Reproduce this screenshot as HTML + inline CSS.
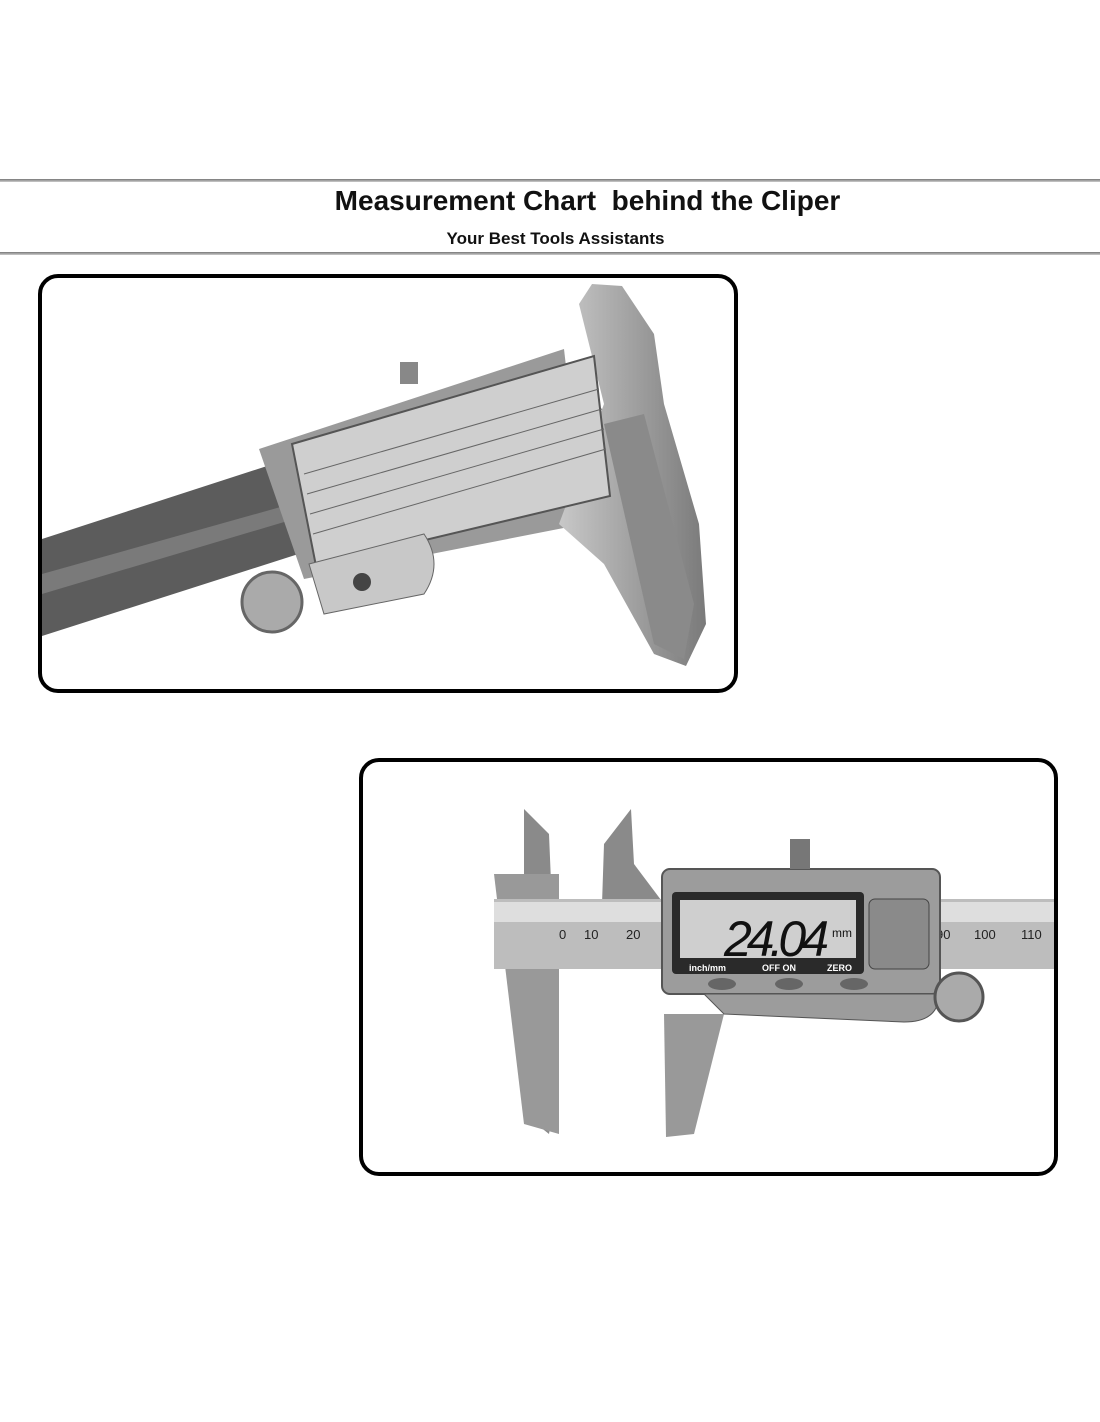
<!DOCTYPE html>
<html><head><meta charset="utf-8"><style>
body{margin:0;width:1100px;height:1422px;background:#fff;position:relative;font-family:"Liberation Sans",sans-serif;overflow:hidden}
.line{position:absolute;left:0;width:1100px;height:3px;background:linear-gradient(#777,#ccc)}
.box{position:absolute;border:4px solid #000;border-radius:20px;background:#fff;overflow:hidden}
</style></head><body>
<div class="line" style="top:179px"></div>
<div style="position:absolute;top:185px;left:0;width:1175px;text-align:center;font-size:28px;font-weight:bold;color:#111">Measurement Chart&nbsp; behind the Cliper</div>
<div style="position:absolute;top:229px;left:0;width:1111px;text-align:center;font-size:17px;font-weight:bold;color:#111">Your Best Tools Assistants</div>
<div class="line" style="top:252px"></div>

<div class="box" style="left:38px;top:274px;width:692px;height:411px">
<svg width="692" height="411" viewBox="38 274 692 411">
<defs>
<linearGradient id="g2" x1="0" y1="0" x2="1" y2="0"><stop offset="0" stop-color="#c8c8c8"/><stop offset="1" stop-color="#7a7a7a"/></linearGradient></defs>
<polygon points="38,535 300,450 310,545 38,632" fill="#5c5c5c"/>
<polygon points="38,570 305,495 307,510 38,590" fill="#7a7a7a"/>
<polygon points="255,445 560,345 580,520 300,575" fill="#9a9a9a"/>
<polygon points="575,300 588,280 618,282 650,330 660,400 695,520 702,620 682,662 650,650 600,560 555,520 600,400" fill="url(#g2)"/>
<polygon points="600,420 640,410 690,600 680,655 650,640" fill="#8a8a8a"/>
<polygon points="288,440 590,352 606,492 312,562" fill="#cfcfcf" stroke="#555" stroke-width="2"/>
<g stroke="#666" stroke-width="1">
<line x1="300" y1="470" x2="595" y2="385"/><line x1="303" y1="490" x2="598" y2="405"/><line x1="306" y1="510" x2="600" y2="425"/><line x1="309" y1="530" x2="602" y2="445"/>
</g>
<rect x="396" y="358" width="18" height="22" fill="#888"/>
<path d="M305,560 L420,530 Q440,560 420,590 L320,610 Z" fill="#c8c8c8" stroke="#666"/>
<circle cx="358" cy="578" r="9" fill="#444"/>
<circle cx="268" cy="598" r="30" fill="#aaa" stroke="#666" stroke-width="3"/>
</svg></div>

<div class="box" style="left:359px;top:758px;width:691px;height:410px">
<svg width="691" height="410" viewBox="359 758 691 410">
<polygon points="520,805 545,830 555,1070 545,1130 520,1110" fill="#8a8a8a"/>
<polygon points="627,805 600,840 598,900 660,900 630,860" fill="#8a8a8a"/>
<polygon points="490,870 555,870 555,1130 520,1120" fill="#999"/>
<polygon points="660,1010 720,1010 690,1130 662,1133" fill="#999"/>
<rect x="490" y="895" width="563" height="70" fill="#bdbdbd"/>
<rect x="490" y="898" width="563" height="20" fill="#dedede"/>
<text x="555" y="935" font-size="13" fill="#222">0</text>
<text x="580" y="935" font-size="13" fill="#222">10</text>
<text x="622" y="935" font-size="13" fill="#222">20</text>
<text x="932" y="935" font-size="13" fill="#222">90</text>
<text x="970" y="935" font-size="13" fill="#222">100</text>
<text x="1017" y="935" font-size="13" fill="#222">110</text>
<rect x="658" y="865" width="278" height="125" rx="8" fill="#9c9c9c" stroke="#555" stroke-width="2"/>
<path d="M700,990 L935,990 Q935,1018 900,1018 L720,1010 Z" fill="#9c9c9c" stroke="#555"/>
<rect x="668" y="888" width="192" height="82" rx="4" fill="#2a2a2a"/>
<rect x="676" y="896" width="176" height="58" fill="#cfcfcf"/>
<text x="720" y="952" font-size="50" fill="#111" font-style="italic" textLength="105">24.04</text>
<text x="828" y="933" font-size="12" fill="#111">mm</text>
<text x="685" y="967" font-size="9" fill="#fff" font-weight="bold">inch/mm</text>
<text x="758" y="967" font-size="9" fill="#fff" font-weight="bold">OFF  ON</text>
<text x="823" y="967" font-size="9" fill="#fff" font-weight="bold">ZERO</text>
<ellipse cx="718" cy="980" rx="14" ry="6" fill="#666"/><ellipse cx="785" cy="980" rx="14" ry="6" fill="#666"/><ellipse cx="850" cy="980" rx="14" ry="6" fill="#666"/>
<rect x="865" y="895" width="60" height="70" rx="6" fill="#8a8a8a" stroke="#444"/>
<rect x="786" y="835" width="20" height="30" fill="#777"/>
<circle cx="955" cy="993" r="24" fill="#aaa" stroke="#555" stroke-width="3"/>
</svg></div>
</body></html>
